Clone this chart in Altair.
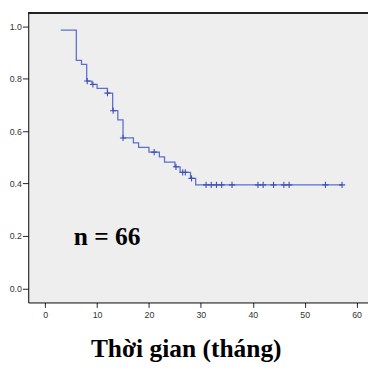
import altair as alt
import pandas as pd

# Kaplan-Meier steps
step_time = [3, 6, 7, 8, 9, 10, 12, 13, 14, 15, 17, 18, 20, 22, 23, 25, 26, 28, 29, 57.2]
step_surv = [0.985, 0.870, 0.855, 0.791, 0.778, 0.763, 0.745, 0.678, 0.643, 0.574,
             0.555, 0.538, 0.520, 0.502, 0.482, 0.464, 0.443, 0.420, 0.395, 0.395]

# censored observations
cens_time = [8.1, 9.2, 12, 13.1, 15, 21, 25.2, 26.5, 27, 28.2, 31, 32, 33, 34, 36,
             41, 42, 44, 46, 47, 54, 57.2]
cens_surv = [0.791, 0.778, 0.745, 0.678, 0.574, 0.520, 0.464, 0.443, 0.443, 0.420,
             0.395, 0.395, 0.395, 0.395, 0.395, 0.395, 0.395, 0.395, 0.395, 0.395,
             0.395, 0.395]

note_text = ["n = 66"]
note_time = [5.5]
note_surv = [0.167]

x_ticks = [0, 10, 20, 30, 40, 50, 60]
y_ticks = [0.0, 0.2, 0.4, 0.6, 0.8, 1.0]

steps = pd.DataFrame({"t": step_time, "s": step_surv})
cens = pd.DataFrame({"t": cens_time, "s": cens_surv})
note = pd.DataFrame({"t": note_time, "s": note_surv, "label": note_text})

xscale = alt.Scale(domain=[-3.26, 62.2], nice=False, zero=False)
yscale = alt.Scale(domain=[-0.0534, 1.051], nice=False, zero=False)

xaxis = alt.Axis(
    values=x_ticks, format="d", grid=False,
    domainColor="#000000", tickColor="#222222", tickSize=5,
    labelFont="Liberation Sans", labelFontSize=9, labelColor="#333333", labelPadding=3,
    title="Thời gian (tháng)", titleFont="Liberation Serif", titleFontSize=26,
    titleFontWeight="bold", titleColor="#000000", titleX=161, titleY=55,
    titleAlign="center", titleBaseline="alphabetic",
)
yaxis = alt.Axis(
    values=y_ticks, format=".1f", grid=False,
    domainColor="#000000", tickColor="#222222", tickSize=6,
    labelFont="Liberation Sans", labelFontSize=9, labelColor="#333333", labelPadding=1,
    title=None,
)

line = alt.Chart(steps).mark_line(
    interpolate="step-after", color="#5b6fcf", strokeWidth=1.3
).encode(
    x=alt.X("t:Q", scale=xscale, axis=xaxis),
    y=alt.Y("s:Q", scale=yscale, axis=yaxis),
)

marks = alt.Chart(cens).mark_point(
    shape="M-1,0H1M0,-1V1", filled=False, color="#3d4fb5", strokeWidth=1.1, size=40, opacity=1
).encode(
    x=alt.X("t:Q", scale=xscale),
    y=alt.Y("s:Q", scale=yscale),
)

text = alt.Chart(note).mark_text(
    align="left", baseline="alphabetic", font="Liberation Serif",
    fontSize=26, fontWeight="bold", color="#000000"
).encode(
    x=alt.X("t:Q", scale=xscale),
    y=alt.Y("s:Q", scale=yscale),
    text="label:N",
)

top_border = alt.Chart(steps).mark_rule(color="#222222", strokeWidth=1.5).encode(
    x=alt.value(0), x2=alt.value(347.3), y=alt.value(0)
)

chart = alt.layer(line, marks, text, top_border).properties(
    width=347.3, height=296,
    autosize=alt.AutoSizeParams(type="none"),
    padding={"left": 20.7, "top": 1, "right": 0, "bottom": 64},
    background="#ffffff",
).configure_view(fill="#eeeeee", stroke=None)

chart.save("out.html", embed_options={"renderer": "svg", "actions": False})
